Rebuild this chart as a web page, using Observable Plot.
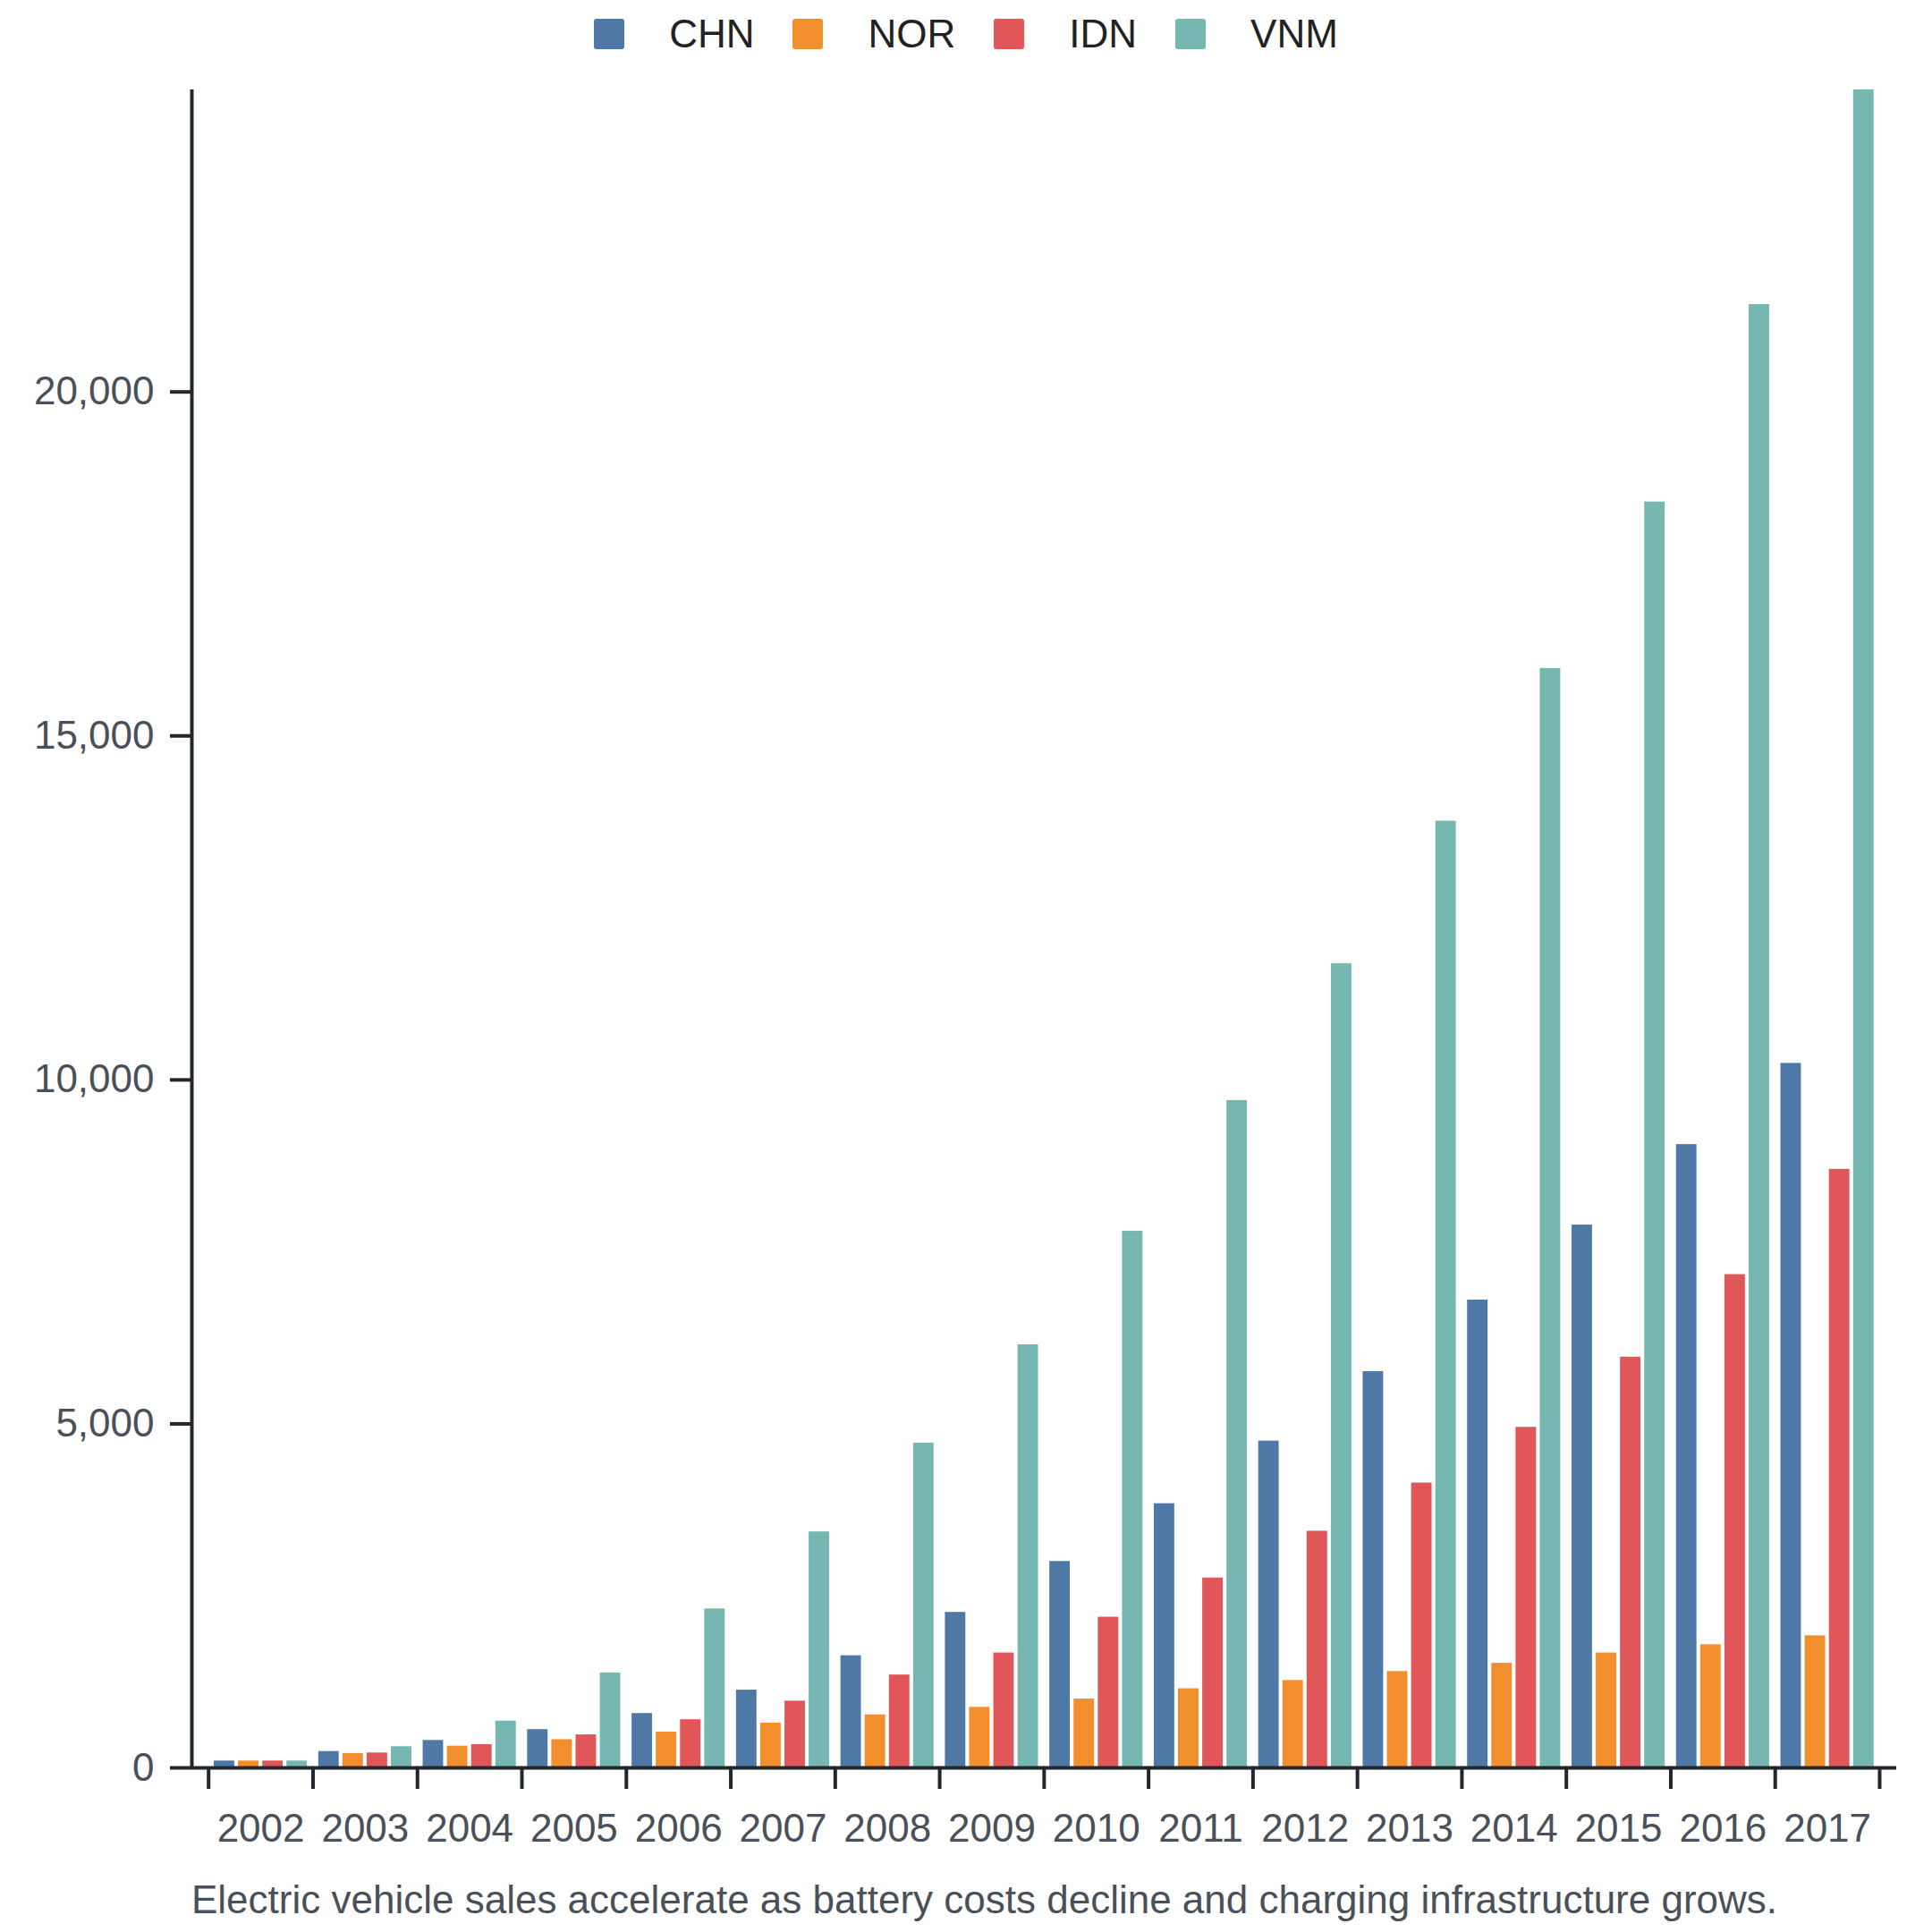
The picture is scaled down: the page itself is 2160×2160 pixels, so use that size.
<!DOCTYPE html>
<html><head><meta charset="utf-8">
<script src="https://cdn.jsdelivr.net/npm/d3@7"></script>
<script src="https://cdn.jsdelivr.net/npm/@observablehq/plot@0.6"></script>
<style>
html,body{margin:0;padding:0;background:#fff;}
body{width:2160px;height:2160px;font-family:"Liberation Sans",Arial,sans-serif;overflow:hidden;}
#legend{height:76px;display:flex;justify-content:center;align-items:center;font-size:44px;color:#222;}
.item{display:flex;align-items:center;margin-right:43px;}
.item:last-child{margin-right:0;}
.sw{width:34px;height:34px;border-radius:3px;margin-right:50px;}
.lab{line-height:1;}
#chart svg{display:block;}
#caption{margin-top:31px;padding-left:214px;font-size:44px;line-height:1;color:#4a5059;white-space:nowrap;}
</style></head><body>
<div id="legend"></div><div id="chart"></div><div id="caption"></div>
<script>
const years = [2002,2003,2004,2005,2006,2007,2008,2009,2010,2011,2012,2013,2014,2015,2016,2017];
const countries = ["CHN","NOR","IDN","VNM"];
const colors = ["#4e79a7","#f28e2b","#e15759","#76b7b2"];
const chn = [100,238,399,556,790,1130,1630,2260,3000,3840,4750,5760,6800,7890,9060,10240];
const nor = [100,208,316,410,520,650,770,880,1000,1150,1270,1400,1520,1670,1790,1920];
const idn = [100,217,338,480,700,970,1350,1670,2190,2760,3440,4140,4950,5970,7170,8700];
const vnm = [100,308,680,1380,2310,3430,4720,6150,7800,9700,11690,13760,15980,18400,21270,24390];
const yTicks = [0,5000,10000,15000,20000];
const captionText = "Electric vehicle sales accelerate as battery costs decline and charging infrastructure grows.";

const series = [chn, nor, idn, vnm];
const rows = years.flatMap((year, i) => countries.map((country, j) => ({year, country, value: series[j][i]})));
const ymax = d3.max(rows, d => d.value);

// legend
const legend = d3.select("#legend");
countries.forEach((c, i) => {
  const it = legend.append("div").attr("class", "item");
  it.append("div").attr("class", "sw").style("background", colors[i]);
  it.append("span").attr("class", "lab").text(c);
});
d3.select("#caption").text(captionText);

const W = 2160, H = 1995, mL = 232.7, mR = 59, mT = 24, mB = 95;
const halfStep = (W - mL - mR) / years.length / 2;
const dark = "#23262b", gray = "#4a5059";
const first = years[0], last = years[years.length - 1];

const plot = Plot.plot({
  width: W, height: H,
  marginTop: mT, marginBottom: mB, marginLeft: mL, marginRight: mR,
  style: {fontFamily: '"Liberation Sans", Arial, sans-serif', background: "white"},
  fx: {domain: years, paddingInner: 0.108, paddingOuter: 0.054, round: false, label: null},
  x: {domain: countries, paddingInner: 0.155, paddingOuter: 0, round: false, axis: null},
  y: {domain: [0, ymax], label: null},
  color: {domain: countries, range: colors},
  marks: [
    Plot.barY(rows, {fx: "year", x: "country", y: "value", fill: "country"}),
    Plot.ruleY([first], {fx: d => d, y: 0, stroke: dark, strokeWidth: 4, insetLeft: -25, insetRight: -7}),
    Plot.ruleY(years.slice(1, -1), {fx: d => d, y: 0, stroke: dark, strokeWidth: 4, insetLeft: -7, insetRight: -7}),
    Plot.ruleY([last], {fx: d => d, y: 0, stroke: dark, strokeWidth: 4, insetLeft: -7, insetRight: -25.3}),
    Plot.ruleX([first], {fx: d => d, x: () => countries[0], y1: 0, y2: ymax, stroke: dark, strokeWidth: 4, dx: -36.45}),
    Plot.axisY({ticks: yTicks, tickSize: 24, text: null, stroke: dark, strokeWidth: 4, dx: -25, label: null}),
    Plot.axisY({ticks: yTicks, tickSize: 0, tickPadding: 42, tickFormat: d3.format(","), fontSize: 44, fill: gray, dx: -25, label: null}),
    Plot.axisFx({anchor: "bottom", tickSize: 24, text: null, stroke: dark, strokeWidth: 4, dx: -halfStep, label: null}),
    Plot.axisFx({anchor: "bottom", ticks: [last], tickSize: 24, text: null, stroke: dark, strokeWidth: 4, dx: halfStep, label: null}),
    Plot.axisFx({anchor: "bottom", tickSize: 0, tickPadding: 51, tickFormat: d => String(d), fontSize: 44, fill: gray, label: null})
  ]
});
document.getElementById("chart").appendChild(plot);
</script>
</body></html>
